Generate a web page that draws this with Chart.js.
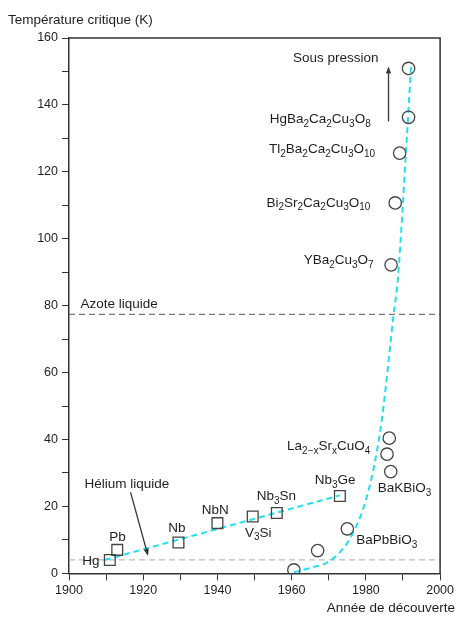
<!DOCTYPE html>
<html>
<head>
<meta charset="utf-8">
<script src="https://cdn.jsdelivr.net/npm/chart.js@4.4.1/dist/chart.umd.min.js"></script>
<style>
  html, body { margin: 0; padding: 0; background: #fff; }
</style>
</head>
<body>
<canvas id="myChart" width="457" height="617"></canvas>
<script>
// conventional superconductors (squares)
var metalYears = [1911, 1913, 1929.5, 1940, 1949.5, 1956, 1973]
var metalTc = [4.0, 7.0, 9.2, 15.0, 17.0, 18.0, 23.1]

// oxides (circles)
var oxideYears = [1960.6, 1967, 1975, 1986.3, 1985.7, 1986.7, 1986.8, 1987.9, 1989.1, 1991.5, 1991.5]
var oxideTc = [1.0, 6.8, 13.3, 40.4, 35.6, 30.4, 92.2, 110.7, 125.6, 136.3, 150.9]

// dashed trend lines
var metalTrendYears = [1909.6, 1973]
var metalTrendTc = [4.0, 23.3]
var oxideTrendYears = [1960.6, 1965, 1970, 1975, 1978.5, 1980, 1982, 1984.3, 1987.5, 1988.6, 1991, 1992.2]
var oxideTrendTc = [0.3, 1.6, 3.5, 9.1, 16.9, 21.9, 30.9, 45.9, 77.6, 87.7, 129.6, 152]

// liquid nitrogen / helium
var refYears = [1900, 2000]
var azoteTc = 77.4
var heliumTc = 4.0

var labelTexts = ['Sous pression', 'HgBa_2Ca_2Cu_3O_8', 'Tl_2Ba_2Ca_2Cu_3O_{10}', 'Bi_2Sr_2Ca_2Cu_3O_{10}',
    'YBa_2Cu_3O_7', 'Azote liquide', 'La_{2\u2212x}Sr_xCuO_4', 'BaKBiO_3', 'Nb_3Ge', 'BaPbBiO_3',
    'Nb_3Sn', 'NbN', 'V_3Si', 'Nb', 'Pb', 'Hg', 'Hélium liquide']
var labelYears = [1983.4, 1981.3, 1982.5, 1981.2, 1982.1, 1903.1, 1981.2, 1983.2, 1971.7, 1977.4,
    1955.9, 1939.4, 1951.0, 1929.05, 1913.1, 1908.2, 1904.2]
var labelTc = [154, 135.6, 126.6, 110.7, 93.5, 80.3, 37.9, 25.4, 27.7, 9.75,
    22.9, 18.7, 12.1, 13.5, 10.8, 3.5, 26.7]
var labelAlign = ['right', 'right', 'right', 'right', 'right', 'left', 'right', 'left', 'center', 'left',
    'center', 'center', 'center', 'center', 'center', 'right', 'left']

var arrowFrom = [[1986.1, 135.1], [1916.6, 24.2]]
var arrowTo = [[1986.1, 151.5], [1921.3, 5.2]]

var FONT = '"Liberation Sans", Arial, Helvetica, sans-serif'
var TEXT = '#1e1e1e'
var CYAN = '#22dfee'

function pts(xs, ys){
    return xs.map((x, i) => ({x: x, y: ys[i]}))
}

function parseFormula(str){
    var segs = []
    var i = 0
    var cur = ''
    while(i < str.length){
        var c = str[i]
        if(c == '_'){
            if(cur){ segs.push({t: cur, sub: false}); cur = '' }
            if(str[i+1] == '{'){
                var end = str.indexOf('}', i)
                segs.push({t: str.substring(i+2, end), sub: true})
                i = end + 1
            }else{
                segs.push({t: str[i+1], sub: true})
                i = i + 2
            }
        }else{
            cur += c
            i++
        }
    }
    if(cur) segs.push({t: cur, sub: false})
    return segs
}

function drawFormula(ctx, str, x, y, align){
    var segs = parseFormula(str)
    var mainFont = '13.5px ' + FONT
    var subFont = '10px ' + FONT
    var w = 0
    segs.forEach(s => {
        ctx.font = s.sub ? subFont : mainFont
        s.w = ctx.measureText(s.t).width
        w += s.w
    })
    var cx = x
    if(align == 'right') cx = x - w
    if(align == 'center') cx = x - w / 2
    ctx.textAlign = 'left'
    ctx.textBaseline = 'middle'
    segs.forEach(s => {
        ctx.font = s.sub ? subFont : mainFont
        ctx.fillText(s.t, cx, s.sub ? y + 4.5 : y)
        cx += s.w
    })
}

function drawArrow(ctx, x1, y1, x2, y2){
    var ang = Math.atan2(y2 - y1, x2 - x1)
    var len = 7, half = 2.6
    var bx = x2 - len * Math.cos(ang)
    var by = y2 - len * Math.sin(ang)
    ctx.beginPath()
    ctx.moveTo(x1, y1)
    ctx.lineTo(bx, by)
    ctx.stroke()
    ctx.beginPath()
    ctx.moveTo(x2, y2)
    ctx.lineTo(bx + half * Math.sin(ang), by - half * Math.cos(ang))
    ctx.lineTo(bx - half * Math.sin(ang), by + half * Math.cos(ang))
    ctx.closePath()
    ctx.fill()
}

var decorPlugin = {
    id: 'decor',
    afterDraw(chart){
        var ctx = chart.ctx
        var xs = chart.scales.x, ys = chart.scales.y
        var a = chart.chartArea
        ctx.save()
        // frame top + right
        ctx.strokeStyle = '#333'
        ctx.lineWidth = 1.5
        ctx.beginPath()
        ctx.moveTo(a.left, a.top)
        ctx.lineTo(a.right, a.top)
        ctx.lineTo(a.right, a.bottom)
        ctx.stroke()

        // arrows
        ctx.strokeStyle = '#333'
        ctx.fillStyle = '#333'
        ctx.lineWidth = 1.3
        for(var i = 0; i < arrowFrom.length; i++){
            drawArrow(ctx,
                xs.getPixelForValue(arrowFrom[i][0]), ys.getPixelForValue(arrowFrom[i][1]),
                xs.getPixelForValue(arrowTo[i][0]), ys.getPixelForValue(arrowTo[i][1]))
        }

        // labels
        ctx.fillStyle = TEXT
        for(var j = 0; j < labelTexts.length; j++){
            drawFormula(ctx, labelTexts[j], xs.getPixelForValue(labelYears[j]), ys.getPixelForValue(labelTc[j]), labelAlign[j])
        }

        // axis titles
        ctx.font = '13.5px ' + FONT
        ctx.textBaseline = 'middle'
        ctx.textAlign = 'left'
        ctx.fillText('Température critique (K)', 8, 20)
        ctx.textAlign = 'right'
        ctx.fillText('Année de découverte', 455, 608)
        ctx.restore()
    }
}

var ctx = document.getElementById('myChart')

var myChart = new Chart(ctx, {
    type: 'scatter',
    data: {
        datasets: [
            {
                data: pts(metalYears, metalTc),
                pointStyle: 'rect',
                pointRadius: 7.6,
                borderColor: '#444',
                backgroundColor: 'rgba(0,0,0,0)',
                borderWidth: 1.3,
                order: 0
            },
            {
                data: pts(oxideYears, oxideTc),
                pointStyle: 'circle',
                pointRadius: 6.2,
                borderColor: '#444',
                backgroundColor: 'rgba(0,0,0,0)',
                borderWidth: 1.3,
                order: 1
            },
            {
                data: pts(metalTrendYears, metalTrendTc),
                showLine: true,
                pointRadius: 0,
                borderColor: CYAN,
                borderWidth: 2,
                borderDash: [6, 4],
                order: 2
            },
            {
                data: pts(oxideTrendYears, oxideTrendTc),
                showLine: true,
                pointRadius: 0,
                borderColor: CYAN,
                borderWidth: 2,
                borderDash: [6, 4],
                cubicInterpolationMode: 'monotone',
                order: 3
            },
            {
                data: pts(refYears, [azoteTc, azoteTc]),
                showLine: true,
                pointRadius: 0,
                borderColor: '#777',
                borderWidth: 1.4,
                borderDash: [6, 4],
                order: 4
            },
            {
                data: pts(refYears, [heliumTc, heliumTc]),
                showLine: true,
                pointRadius: 0,
                borderColor: '#bbb',
                borderWidth: 1.4,
                borderDash: [6, 4],
                order: 5
            }
        ]
    },
    options: {
        responsive: false,
        animation: false,
        layout: { padding: { top: 38, right: 15, left: 0, bottom: 0 } },
        plugins: {
            legend: { display: false },
            tooltip: { enabled: false }
        },
        scales: {
            x: {
                type: 'linear',
                min: 1900,
                max: 2000,
                afterFit: s => { s.height = 43.7 },
                border: { color: '#333', width: 1.5 },
                grid: { drawOnChartArea: false, tickLength: 7, color: '#333', tickWidth: 1 },
                ticks: {
                    stepSize: 10,
                    autoSkip: false,
                    maxRotation: 0,
                    padding: 3,
                    color: TEXT,
                    font: { family: FONT, size: 12.5 },
                    callback: v => (v % 20 == 0 ? v : '')
                }
            },
            y: {
                min: 0,
                max: 160,
                afterFit: s => { s.width = 69 },
                border: { color: '#333', width: 1.5 },
                grid: { drawOnChartArea: false, tickLength: 7, color: '#333', tickWidth: 1 },
                ticks: {
                    stepSize: 10,
                    autoSkip: false,
                    padding: 4,
                    color: TEXT,
                    font: { family: FONT, size: 12.5 },
                    callback: v => (v % 20 == 0 ? v : '')
                }
            }
        }
    },
    plugins: [decorPlugin]
})
</script>
</body>
</html>
